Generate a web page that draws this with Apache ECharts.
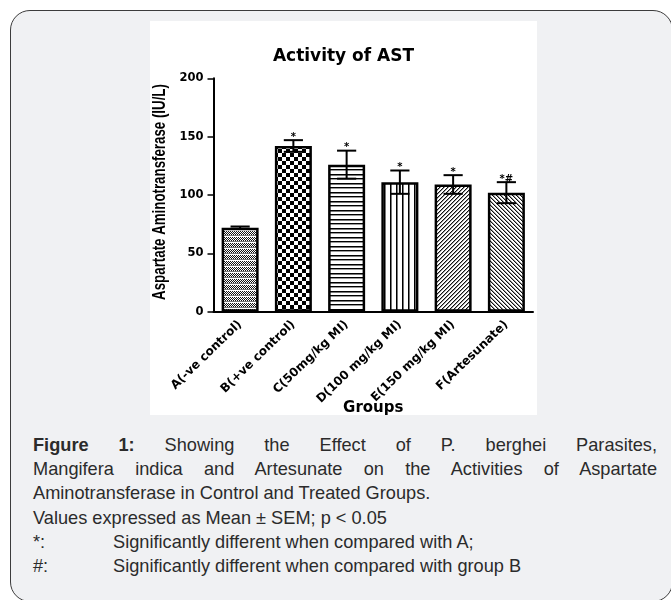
<!DOCTYPE html>
<html><head><meta charset="utf-8">
<script src="https://cdn.jsdelivr.net/npm/echarts@6/dist/echarts.min.js"></script>
<style>
html,body{margin:0;padding:0;background:#fff;width:671px;height:600px;overflow:hidden;}
#box{position:absolute;left:10px;top:10px;width:663px;height:592px;border:1.5px solid #3c3c3c;border-radius:20px;background:#f0f1f3;box-sizing:border-box;}
#chart{position:absolute;left:150px;top:21px;width:387px;height:394px;background:#fff;}
#cap{position:absolute;left:33px;top:433px;width:624px;font-family:'Liberation Sans',Arial,sans-serif;font-size:18.2px;line-height:24.2px;color:#2b2b2b;}
#cap div{white-space:nowrap;}
#cap .j{text-align:justify;text-align-last:justify;white-space:normal;}
#cap .k{display:inline-block;width:80px;}
</style></head>
<body>
<div id="box"></div>
<div id="chart"></div>
<div id="cap">
<div class="j"><b>Figure 1:</b> Showing the Effect of P. berghei Parasites,</div>
<div class="j">Mangifera indica and Artesunate on the Activities of Aspartate</div>
<div>Aminotransferase in Control and Treated Groups.</div>
<div>Values expressed as Mean ± SEM; p &lt; 0.05</div>
<div><span class="k">*:</span>Significantly different when compared with A;</div>
<div><span class="k">#:</span>Significantly different when compared with group B</div>
</div>
<script>
const categories = ['A(-ve control)', 'B(+ve control)', 'C(50mg/kg MI)', 'D(100 mg/kg MI)', 'E(150 mg/kg MI)', 'F(Artesunate)'];
const means = [72, 142, 126, 111, 109, 102];
const sems = [1, 5, 12, 10, 8, 9];
const marks = ['', '*', '*', '*', '*', '*#'];
const yMin = 0, yMax = 200, yStep = 50;
const yTitle = 'Aspartate Aminotransferase (IU/L)';

function tile(w, h, draw) {
  const c = document.createElement('canvas');
  c.width = w; c.height = h;
  const g = c.getContext('2d');
  g.fillStyle = '#fff'; g.fillRect(0, 0, w, h);
  draw(g);
  return { image: c, repeat: 'repeat' };
}
function px(g, x, y, col) { g.fillStyle = col; g.fillRect(x, y, 1, 1); }

const patterns = [
  tile(4, 6, g => { for (let y = 0; y < 4; y++) for (let x = 0; x < 4; x++) if ((x + y) % 2 === 0) px(g, x, y, '#111'); for (let x = 0; x < 4; x++) px(g, x, 4, '#777'); }),
  tile(8, 8, g => { g.fillStyle = '#000'; g.fillRect(0, 0, 4, 4); g.fillRect(4, 4, 4, 4); }),
  tile(1, 9, g => { px(g, 0, 0, '#000'); px(g, 0, 1, '#777'); px(g, 0, 4, '#000'); px(g, 0, 5, '#999'); }),
  tile(6, 1, g => { px(g, 0, 0, '#000'); px(g, 1, 0, '#777'); }),
  tile(4, 4, g => { for (let y = 0; y < 4; y++) { px(g, (3 - y + 4) % 4, y, '#111'); px(g, (4 - y + 4) % 4, y, '#999'); } }),
  tile(4, 4, g => { for (let y = 0; y < 4; y++) { px(g, y, y, '#111'); px(g, (y + 1) % 4, y, '#999'); } })
];

const chart = echarts.init(document.getElementById('chart'), null, { renderer: 'canvas' });
const boldW = { fontFamily: 'DejaVu Sans', fontWeight: 'bold', color: '#000' };

chart.setOption({
  animation: false,
  backgroundColor: '#fff',
  title: { text: 'Activity of AST', left: 'center', top: 22, textStyle: Object.assign({ fontSize: 17 }, boldW) },
  grid: { left: 63.5, right: 4, top: 57.3, bottom: 103.3, containLabel: false, outerBoundsMode: 'none' },
  graphic: [{
    type: 'text', x: 10, y: 171, rotation: Math.PI / 2, scaleY: 1.35,
    style: { text: yTitle, font: 'bold 13.3px "Liberation Sans"', align: 'center', verticalAlign: 'middle', fill: '#000' }
  }],
  xAxis: {
    type: 'category', data: categories,
    axisLine: { lineStyle: { color: '#000', width: 2 } },
    axisTick: { alignWithLabel: true, length: 5, lineStyle: { color: '#000', width: 2 } },
    axisLabel: Object.assign({ rotate: 44, interval: 0, fontSize: 12, margin: 11 }, boldW),
    name: 'Groups', nameLocation: 'middle', nameGap: 89, nameMoveOverlap: false,
    nameTextStyle: Object.assign({ fontSize: 15 }, boldW)
  },
  yAxis: {
    type: 'value', min: yMin, max: yMax, interval: yStep,
    axisLine: { show: true, lineStyle: { color: '#000', width: 2 } },
    axisTick: { show: true, length: 6, lineStyle: { color: '#000', width: 1.5 } },
    axisLabel: Object.assign({ fontSize: 11.5, margin: 10 }, boldW),
    splitLine: { show: false }
  },
  series: [
    {
      type: 'bar', barWidth: 37,
      data: means.map((v, i) => ({ value: v, itemStyle: { color: patterns[i] } })),
      itemStyle: { borderColor: '#000', borderWidth: 2.5 }
    },
    {
      type: 'custom', z: 5,
      data: means.map((m, i) => [i, m - sems[i], m + sems[i]]),
      encode: { x: 0, y: [1, 2] },
      renderItem: (params, api) => {
        const i = api.value(0);
        const lo = api.coord([i, api.value(1)]);
        const hi = api.coord([i, api.value(2)]);
        const half = api.size([1, 0])[0] * 0.18;
        const ls = { stroke: '#000', lineWidth: 2 };
        return {
          type: 'group',
          children: [
            { type: 'line', shape: { x1: lo[0], y1: lo[1], x2: hi[0], y2: hi[1] }, style: ls },
            { type: 'line', shape: { x1: hi[0] - half, y1: hi[1], x2: hi[0] + half, y2: hi[1] }, style: ls },
            { type: 'line', shape: { x1: lo[0] - half, y1: lo[1], x2: lo[0] + half, y2: lo[1] }, style: ls },
            { type: 'text', x: hi[0], y: hi[1] - 3, style: { text: marks[params.dataIndex], align: 'center', verticalAlign: 'middle', font: 'bold 10px "DejaVu Sans"', fill: '#000' } }
          ]
        };
      }
    }
  ]
});
</script>
</body></html>
